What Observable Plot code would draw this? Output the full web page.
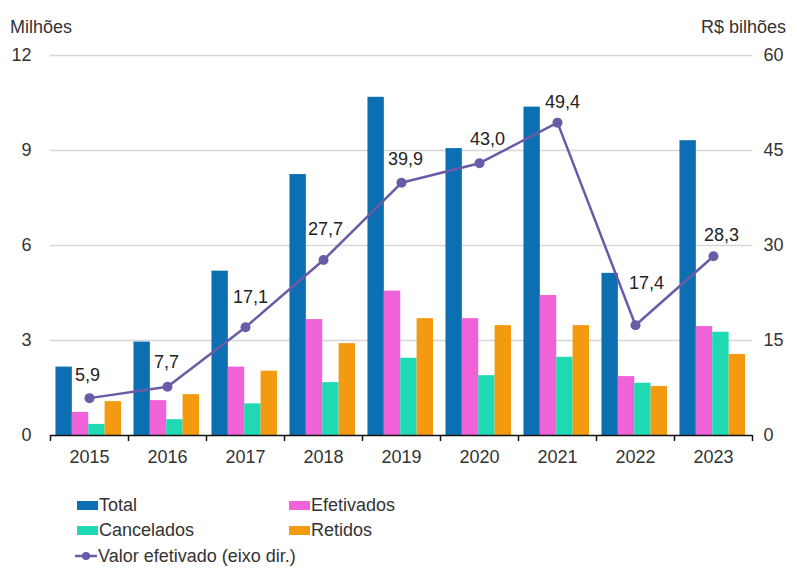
<!DOCTYPE html>
<html><head><meta charset="utf-8">
<script src="https://cdn.jsdelivr.net/npm/d3@7"></script>
<script src="https://cdn.jsdelivr.net/npm/@observablehq/plot@0.6"></script>
<style>
body{margin:0;background:#fff;font-family:"Liberation Sans",Arial,sans-serif;}
#wrap{position:relative;width:795px;height:568px;overflow:hidden;}
#chart{position:absolute;left:0;top:0;}
.lg{position:absolute;font-size:18px;color:#333;line-height:20px;white-space:nowrap;}
.sw{display:inline-block;width:21px;height:9px;vertical-align:middle;margin-right:1px;position:relative;top:-1px;}
.ls{display:inline-block;width:22px;height:10px;vertical-align:middle;position:relative;top:-1px;margin-right:1px;}
.hdr{position:absolute;font-size:18px;color:#333;top:17px;}
</style></head><body>
<div id="wrap">
<div id="chart"></div>
<div class="hdr" style="left:10px;">Milhões</div>
<div class="hdr" style="right:9px;">R$ bilhões</div>
<div id="legend"></div>
</div>
<script>
const years = [2015, 2016, 2017, 2018, 2019, 2020, 2021, 2022, 2023];
const total      = [2.16, 2.95, 5.19, 8.24, 10.68, 9.06, 10.37, 5.12, 9.31];
const efetivados = [0.73, 1.10, 2.16, 3.66, 4.56, 3.69, 4.42, 1.86, 3.44];
const cancelados = [0.35, 0.50, 1.00, 1.67, 2.44, 1.89, 2.47, 1.65, 3.26];
const retidos    = [1.07, 1.29, 2.03, 2.90, 3.69, 3.47, 3.47, 1.55, 2.56];
const valor      = [5.9, 7.7, 17.1, 27.7, 39.9, 43.0, 49.4, 17.4, 28.3];
const seriesNames  = ["Total", "Efetivados", "Cancelados", "Retidos"];
const lineName = "Valor efetivado (eixo dir.)";
const leftTicks  = [0, 3, 6, 9, 12];
const rightTicks = [0, 15, 30, 45, 60];

// styling / layout (not data)
const seriesColors = ["#0b6fb2", "#f062d8", "#1fd9b2", "#f39a10"];
const lineColor = "#6a5aa8";
const labelDx = [-2, -1, 5, 2, 4, 8, 5, 11, 8];
const labelDy = [-23, -24, -30, -31, -24, -24, -20, -42, -21];
const barW = 0.21, groupStart = -0.43;
const ratio = 5; // right axis / left axis

const seriesValues = [total, efetivados, cancelados, retidos];
const bars = [];
years.forEach((y, i) => seriesValues.forEach((arr, k) => {
  bars.push({i, year: y, series: seriesNames[k], k, value: arr[i]});
}));
const line = years.map((y, i) => ({i, year: y, valor: valor[i]}));
const fmt = v => v.toFixed(1).replace(".", ",");

const plot = Plot.plot({
  width: 795,
  height: 478,
  marginTop: 55,
  marginBottom: 43,
  marginLeft: 50,
  marginRight: 43,
  style: {fontFamily: '"Liberation Sans", Arial, sans-serif', fontSize: "18px", color: "#333", background: "white"},
  x: {type: "linear", domain: [-0.5, years.length - 0.5]},
  y: {domain: [0, 12]},
  color: {domain: seriesNames, range: seriesColors},
  marks: [
    Plot.gridY(leftTicks.filter(t => t > 0), {stroke: "#d6d6d6", strokeOpacity: 1, strokeWidth: 1.5}),
    Plot.rect(bars, {
      x1: d => d.i + groupStart + d.k * barW,
      x2: d => d.i + groupStart + (d.k + 1) * barW,
      y1: 0, y2: "value", fill: "series"
    }),
    Plot.ruleY([0], {stroke: "#111", strokeWidth: 1.5}),
    Plot.axisX(d3.range(years.length + 1).map(i => i - 0.5), {tickSize: 6, tickFormat: () => "", stroke: "#111", strokeWidth: 1.5, label: null}),
    Plot.axisX(years.map((_, i) => i), {tickSize: 0, tickPadding: 15, tickFormat: i => String(years[i]), fill: "#333", label: null}),
    Plot.axisY(leftTicks, {anchor: "left", tickSize: 0, tickPadding: 19, label: null, fill: "#333"}),
    Plot.axisY(rightTicks.map(v => v / ratio), {anchor: "right", tickSize: 0, tickPadding: 11, tickFormat: d => String(Math.round(d * ratio)), label: null, fill: "#333"}),
    Plot.line(line, {x: "i", y: d => d.valor / ratio, stroke: lineColor, strokeWidth: 2.5}),
    Plot.dot(line, {x: "i", y: d => d.valor / ratio, fill: lineColor, r: 5}),
    ...line.map((d, j) => Plot.text([d], {x: "i", y: dd => dd.valor / ratio, text: dd => fmt(dd.valor), dx: labelDx[j], dy: labelDy[j], fill: "#222", fontSize: 18}))
  ]
});
document.getElementById("chart").appendChild(plot);

// legend
const lg = document.getElementById("legend");
const items = [
  {name: seriesNames[0], color: seriesColors[0], x: 77, y: 495},
  {name: seriesNames[1], color: seriesColors[1], x: 289, y: 495},
  {name: seriesNames[2], color: seriesColors[2], x: 77, y: 520},
  {name: seriesNames[3], color: seriesColors[3], x: 289, y: 520}
];
items.forEach(it => {
  const div = document.createElement("div");
  div.className = "lg";
  div.style.left = it.x + "px"; div.style.top = it.y + "px";
  div.innerHTML = `<span class="sw" style="background:${it.color}"></span>${it.name}`;
  lg.appendChild(div);
});
const ldiv = document.createElement("div");
ldiv.className = "lg";
ldiv.style.left = "75px"; ldiv.style.top = "546px";
ldiv.innerHTML = `<svg class="ls" viewBox="0 0 22 10"><line x1="0" y1="5" x2="22" y2="5" stroke="${lineColor}" stroke-width="2.5"/><circle cx="11" cy="5" r="4" fill="${lineColor}"/></svg>${lineName}`;
lg.appendChild(ldiv);
</script>
</body></html>
